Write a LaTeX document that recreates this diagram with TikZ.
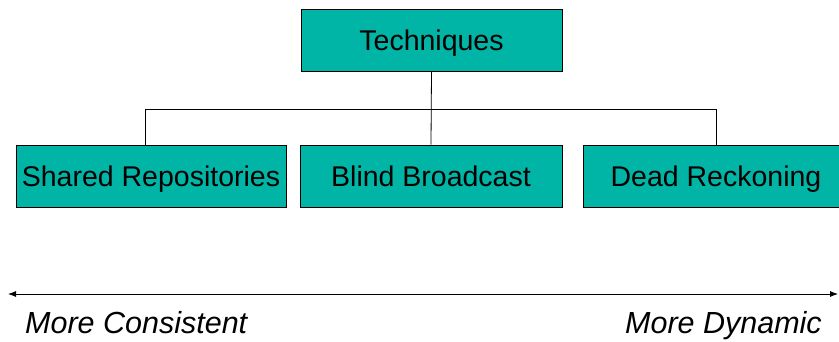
\documentclass[tikz,border=0pt]{standalone}
\usepackage{fontspec}
\setmainfont{Liberation Sans}
\usetikzlibrary{positioning, arrows, arrows.meta}
\definecolor{teal}{RGB}{0,181,165}
\tikzset{
  tbox/.style={draw, fill=teal, line width=0.9pt, minimum height=62pt, inner sep=0pt,
    text height=21pt, text depth=0pt, font=\fontsize{28.5}{34}\selectfont},
  link/.style={draw, line width=0.8pt},
}

\begin{document}
\begin{tikzpicture}[x=1pt, y=-1pt]
	\tikzstyle{arrowline}=[draw, line width=0.8pt, {Latex[length=8pt,width=6pt]}-{Latex[length=8pt,width=6pt]}]
	\tikzstyle{endlabel}=[font=\fontsize{30.5}{36}\selectfont\itshape, inner sep=0pt]
	\useasboundingbox (0,0) rectangle (839,341);

	\node [tbox, minimum width=261pt] (tech) at (431.5,40) {Techniques};
	\node [tbox, minimum width=270pt] (shrd) at (151,176) {Shared Repositories};
	\node [tbox, minimum width=262pt] (blnd) at (431,176) {Blind Broadcast};
	\node [tbox, minimum width=266pt] (dead) at (716,176) {Dead Reckoning};

	\coordinate (busL) at (145,109);
	\coordinate (busR) at (716,109);

	\path[link] (busL) -- (busR);
	\path[link] (tech.south) -- (blnd.north);
	\path[link] (busL) -- (busL |- shrd.north);
	\path[link] (busR) -- (busR |- dead.north);

	\coordinate (axL) at (8,294);
	\coordinate (axR) at (838,294);
	\path[arrowline] (axL) -- (axR);

	\node [endlabel, anchor=base west] (cons) at (25,333) {More Consistent};
	\node [endlabel, anchor=base east] (dyn) at (822,333) {More Dynamic};
\end{tikzpicture}
\end{document}
